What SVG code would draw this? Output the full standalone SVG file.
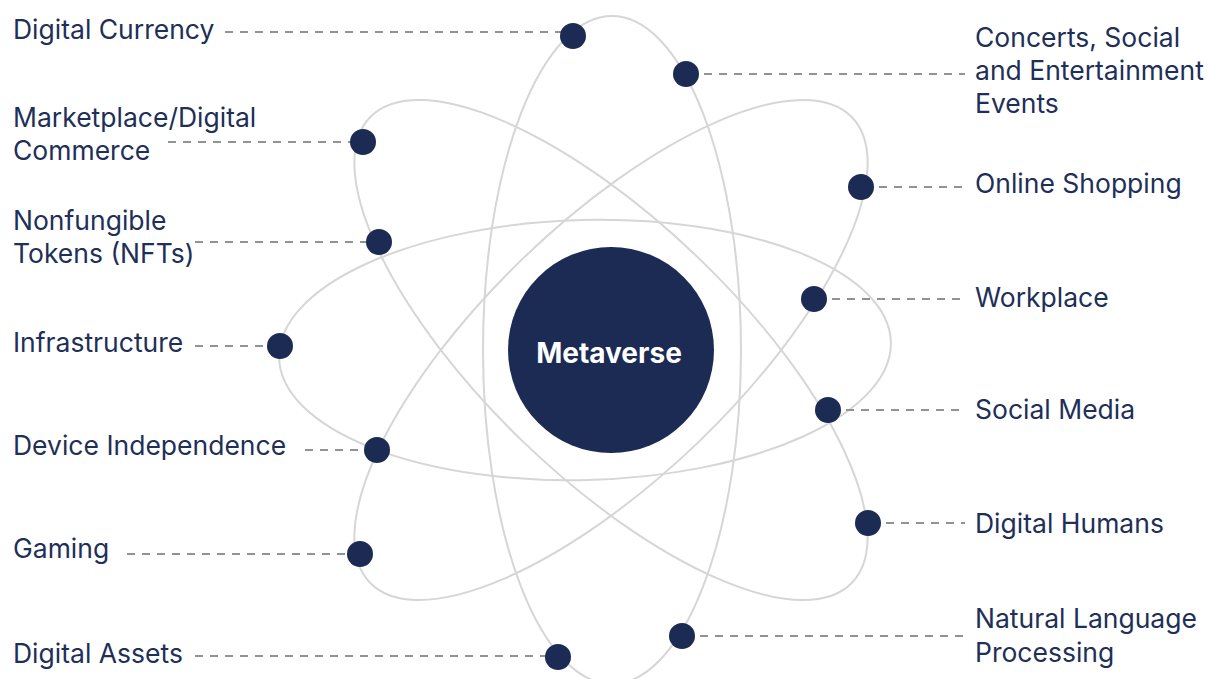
<svg xmlns="http://www.w3.org/2000/svg" width="1208" height="679" viewBox="0 0 1208 679">
  <style>
    .orbit { fill: none; stroke: #d6d6d6; stroke-width: 2; }
    .conn { stroke: #8e9394; stroke-width: 2; stroke-dasharray: 8 7; fill: none; }
    .dot { fill: #1b2b53; }
    .lbl { font-family: Inter, "Liberation Sans", sans-serif; font-size: 26.5px; fill: #1e2f58; }
    .core { fill: #1b2b53; }
    .coretxt { font-family: Inter, "Liberation Sans", sans-serif; font-size: 28px; font-weight: 700; fill: #ffffff; text-anchor: middle; }
  </style>
  <rect width="1208" height="679" fill="#ffffff"/>

  <g id="orbits">
    <ellipse class="orbit" cx="612" cy="350" rx="129" ry="334"/>
    <ellipse class="orbit" cx="585" cy="350" rx="306" ry="130" transform="rotate(-1.5 585 350)"/>
    <ellipse class="orbit" cx="611" cy="350" rx="335" ry="127" transform="rotate(44 611 350)"/>
    <ellipse class="orbit" cx="611" cy="350" rx="335" ry="127" transform="rotate(-44 611 350)"/>
  </g>

  <g id="connectors">
    <line class="conn" x1="225" y1="32" x2="570" y2="32"/>
    <line class="conn" x1="168" y1="142" x2="360" y2="142"/>
    <line class="conn" x1="195" y1="242" x2="376" y2="242"/>
    <line class="conn" x1="195" y1="346" x2="278" y2="346"/>
    <line class="conn" x1="305" y1="450" x2="374" y2="450"/>
    <line class="conn" x1="127" y1="554" x2="358" y2="554"/>
    <line class="conn" x1="195" y1="656" x2="555" y2="656"/>
    <line class="conn" x1="689" y1="74" x2="965" y2="74"/>
    <line class="conn" x1="864" y1="187" x2="965" y2="187"/>
    <line class="conn" x1="817" y1="299" x2="965" y2="299"/>
    <line class="conn" x1="831" y1="410" x2="965" y2="410"/>
    <line class="conn" x1="871" y1="523" x2="965" y2="523"/>
    <line class="conn" x1="685" y1="636" x2="965" y2="636"/>
  </g>

  <g id="metaverse">
    <circle class="core" cx="611" cy="350" r="103"/>
    <text class="coretxt" x="609" y="363">Metaverse</text>
  </g>

  <g id="digital-currency">
    <circle class="dot" cx="573" cy="36" r="13"/>
    <text class="lbl" x="13" y="39">Digital Currency</text>
  </g>
  <g id="marketplace">
    <circle class="dot" cx="363" cy="142" r="13"/>
    <text class="lbl" x="13" y="127">Marketplace/Digital</text>
    <text class="lbl" x="13" y="160">Commerce</text>
  </g>
  <g id="nfts">
    <circle class="dot" cx="379" cy="242" r="13"/>
    <text class="lbl" x="13" y="230">Nonfungible</text>
    <text class="lbl" x="13" y="263">Tokens (NFTs)</text>
  </g>
  <g id="infrastructure">
    <circle class="dot" cx="280" cy="346" r="13"/>
    <text class="lbl" x="13" y="352">Infrastructure</text>
  </g>
  <g id="device-independence">
    <circle class="dot" cx="377" cy="450" r="13"/>
    <text class="lbl" x="13" y="455">Device Independence</text>
  </g>
  <g id="gaming">
    <circle class="dot" cx="360" cy="554" r="13"/>
    <text class="lbl" x="13" y="558">Gaming</text>
  </g>
  <g id="digital-assets">
    <circle class="dot" cx="558" cy="657" r="13"/>
    <text class="lbl" x="13" y="663">Digital Assets</text>
  </g>

  <g id="concerts">
    <circle class="dot" cx="686" cy="74" r="13"/>
    <text class="lbl" x="975" y="47">Concerts, Social</text>
    <text class="lbl" x="975" y="80">and Entertainment</text>
    <text class="lbl" x="975" y="113">Events</text>
  </g>
  <g id="online-shopping">
    <circle class="dot" cx="861" cy="187" r="13"/>
    <text class="lbl" x="975" y="193">Online Shopping</text>
  </g>
  <g id="workplace">
    <circle class="dot" cx="814" cy="299" r="13"/>
    <text class="lbl" x="975" y="307">Workplace</text>
  </g>
  <g id="social-media">
    <circle class="dot" cx="828" cy="410" r="13"/>
    <text class="lbl" x="975" y="419">Social Media</text>
  </g>
  <g id="digital-humans">
    <circle class="dot" cx="868" cy="523" r="13"/>
    <text class="lbl" x="975" y="533">Digital Humans</text>
  </g>
  <g id="nlp">
    <circle class="dot" cx="682" cy="636" r="13"/>
    <text class="lbl" x="975" y="628">Natural Language</text>
    <text class="lbl" x="975" y="662">Processing</text>
  </g>
</svg>
